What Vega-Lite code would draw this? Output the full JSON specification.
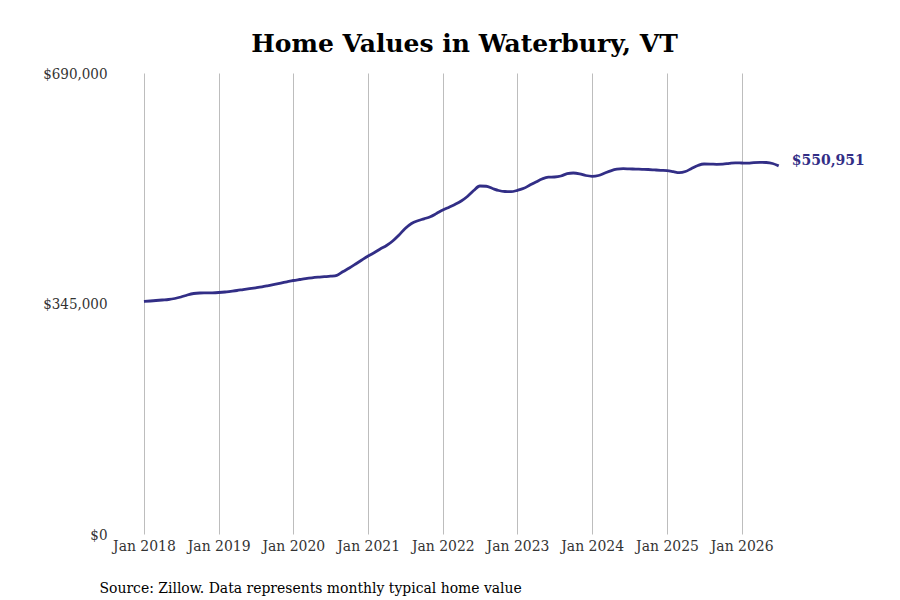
{
  "$schema": "https://vega.github.io/schema/vega-lite/v6.json",
  "autosize": "none",
  "padding": {"left": 119, "top": 73, "right": 90, "bottom": 66},
  "width": 691,
  "height": 461,
  "background": "white",
  "title": {
    "text": "Home Values in Waterbury, VT",
    "font": "DejaVu Serif",
    "fontSize": 25,
    "fontWeight": "bold",
    "color": "#000000",
    "anchor": "middle",
    "offset": 9
  },
  "data": {
    "values": [
      {"date": "2018-01-01", "value": 348000},
      {"date": "2018-02-01", "value": 348740},
      {"date": "2018-03-01", "value": 349490},
      {"date": "2018-04-01", "value": 350240},
      {"date": "2018-05-01", "value": 350985},
      {"date": "2018-06-01", "value": 352480},
      {"date": "2018-07-01", "value": 354730},
      {"date": "2018-08-01", "value": 357720},
      {"date": "2018-09-01", "value": 359965},
      {"date": "2018-10-01", "value": 360715},
      {"date": "2018-11-01", "value": 360865},
      {"date": "2018-12-01", "value": 361015},
      {"date": "2019-01-01", "value": 361465},
      {"date": "2019-02-01", "value": 362210},
      {"date": "2019-03-01", "value": 363260},
      {"date": "2019-04-01", "value": 364455},
      {"date": "2019-05-01", "value": 365805},
      {"date": "2019-06-01", "value": 367150},
      {"date": "2019-07-01", "value": 368500},
      {"date": "2019-08-01", "value": 369995},
      {"date": "2019-09-01", "value": 371790},
      {"date": "2019-10-01", "value": 373585},
      {"date": "2019-11-01", "value": 375530},
      {"date": "2019-12-01", "value": 377480},
      {"date": "2020-01-01", "value": 379425},
      {"date": "2020-02-01", "value": 380920},
      {"date": "2020-03-01", "value": 382270},
      {"date": "2020-04-01", "value": 383465},
      {"date": "2020-05-01", "value": 384365},
      {"date": "2020-06-01", "value": 385110},
      {"date": "2020-07-01", "value": 385860},
      {"date": "2020-08-01", "value": 387205},
      {"date": "2020-09-01", "value": 392895},
      {"date": "2020-10-01", "value": 398130},
      {"date": "2020-11-01", "value": 404120},
      {"date": "2020-12-01", "value": 410105},
      {"date": "2021-01-01", "value": 416095},
      {"date": "2021-02-01", "value": 421330},
      {"date": "2021-03-01", "value": 426570},
      {"date": "2021-04-01", "value": 431810},
      {"date": "2021-05-01", "value": 438545},
      {"date": "2021-06-01", "value": 447525},
      {"date": "2021-07-01", "value": 457255},
      {"date": "2021-08-01", "value": 464735},
      {"date": "2021-09-01", "value": 468930},
      {"date": "2021-10-01", "value": 471770},
      {"date": "2021-11-01", "value": 474915},
      {"date": "2021-12-01", "value": 479705},
      {"date": "2022-01-01", "value": 484945},
      {"date": "2022-02-01", "value": 489135},
      {"date": "2022-03-01", "value": 493175},
      {"date": "2022-04-01", "value": 498415},
      {"date": "2022-05-01", "value": 505150},
      {"date": "2022-06-01", "value": 514130},
      {"date": "2022-07-01", "value": 520865},
      {"date": "2022-08-01", "value": 520500},
      {"date": "2022-09-01", "value": 517125},
      {"date": "2022-10-01", "value": 514130},
      {"date": "2022-11-01", "value": 512635},
      {"date": "2022-12-01", "value": 512335},
      {"date": "2023-01-01", "value": 514430},
      {"date": "2023-02-01", "value": 517425},
      {"date": "2023-03-01", "value": 521915},
      {"date": "2023-04-01", "value": 526855},
      {"date": "2023-05-01", "value": 531340},
      {"date": "2023-06-01", "value": 534035},
      {"date": "2023-07-01", "value": 534335},
      {"date": "2023-08-01", "value": 535835},
      {"date": "2023-09-01", "value": 539275},
      {"date": "2023-10-01", "value": 540325},
      {"date": "2023-11-01", "value": 539125},
      {"date": "2023-12-01", "value": 536580},
      {"date": "2024-01-01", "value": 535385},
      {"date": "2024-02-01", "value": 536580},
      {"date": "2024-03-01", "value": 539875},
      {"date": "2024-04-01", "value": 543615},
      {"date": "2024-05-01", "value": 546010},
      {"date": "2024-06-01", "value": 546760},
      {"date": "2024-07-01", "value": 546460},
      {"date": "2024-08-01", "value": 546160},
      {"date": "2024-09-01", "value": 545860},
      {"date": "2024-10-01", "value": 545560},
      {"date": "2024-11-01", "value": 544965},
      {"date": "2024-12-01", "value": 544365},
      {"date": "2025-01-01", "value": 543915},
      {"date": "2025-02-01", "value": 542415},
      {"date": "2025-03-01", "value": 540920},
      {"date": "2025-04-01", "value": 542570},
      {"date": "2025-05-01", "value": 547060},
      {"date": "2025-06-01", "value": 551550},
      {"date": "2025-07-01", "value": 553795},
      {"date": "2025-08-01", "value": 553700},
      {"date": "2025-09-01", "value": 553345},
      {"date": "2025-10-01", "value": 553495},
      {"date": "2025-11-01", "value": 554695},
      {"date": "2025-12-01", "value": 555590},
      {"date": "2026-01-01", "value": 555290},
      {"date": "2026-02-01", "value": 554990},
      {"date": "2026-03-01", "value": 555890},
      {"date": "2026-04-01", "value": 556340},
      {"date": "2026-05-01", "value": 556040},
      {"date": "2026-06-01", "value": 554540},
      {"date": "2026-07-01", "value": 550951}
    ]
  },
  "encoding": {
    "x": {
      "field": "date",
      "type": "temporal",
      "scale": {"domain": ["2017-09-01", "2026-12-01"]},
      "axis": {
        "values": ["2018-01-01", "2019-01-01", "2020-01-01", "2021-01-01", "2022-01-01", "2023-01-01", "2024-01-01", "2025-01-01", "2026-01-01"],
        "format": "%b %Y",
        "grid": true,
        "gridColor": "#bdbdbd",
        "gridWidth": 1,
        "ticks": false,
        "domain": false,
        "labelPadding": 4,
        "labelFont": "DejaVu Serif Condensed",
        "labelFontSize": 15.5,
        "labelColor": "#333333",
        "title": "Source: Zillow. Data represents monthly typical home value",
        "titleFont": "DejaVu Serif Condensed",
        "titleFontSize": 15.5,
        "titleFontWeight": "normal",
        "titleColor": "#000000",
        "titleAnchor": "start",
        "titleAlign": "left",
        "titleX": -20,
        "titleY": 46
      }
    },
    "y": {
      "field": "value",
      "type": "quantitative",
      "scale": {"domain": [0, 690000], "nice": false},
      "axis": {
        "values": [0, 345000, 690000],
        "format": "$,.0f",
        "grid": false,
        "ticks": false,
        "domain": false,
        "labelPadding": 12,
        "labelFont": "DejaVu Serif Condensed",
        "labelFontSize": 15,
        "labelColor": "#333333",
        "title": null
      }
    }
  },
  "layer": [
    {
      "mark": {"type": "line", "color": "#322e86", "strokeWidth": 2.8, "interpolate": "monotone"}
    },
    {
      "transform": [{"filter": "year(datum.date) === 2026 && month(datum.date) === 6"}],
      "mark": {
        "type": "text",
        "align": "left",
        "baseline": "middle",
        "dx": 13,
        "dy": -5,
        "font": "DejaVu Serif",
        "fontSize": 14,
        "fontWeight": "bold",
        "color": "#322e86"
      },
      "encoding": {
        "text": {"field": "value", "type": "quantitative", "format": "$,.0f"}
      }
    }
  ],
  "config": {
    "view": {"stroke": null}
  }
}
